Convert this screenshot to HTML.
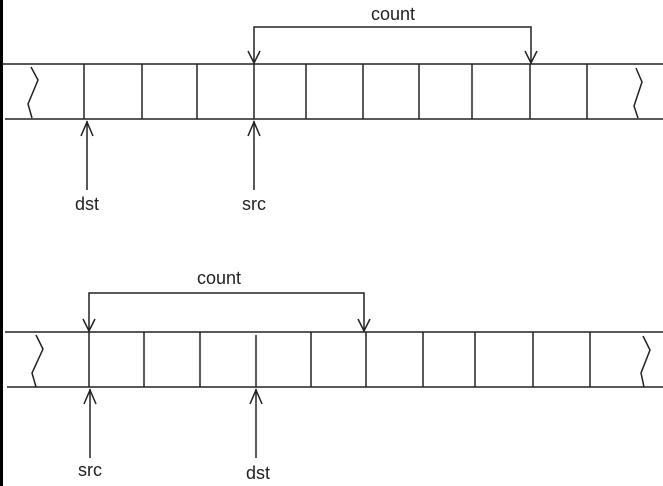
<!DOCTYPE html>
<html><head><meta charset="utf-8"><style>
html,body{margin:0;padding:0;background:#fff;}
svg{display:block;}
text{font-family:"Liberation Sans",sans-serif;font-size:18px;fill:#222;}
</style></head><body>
<svg width="663" height="486" viewBox="0 0 663 486" xmlns="http://www.w3.org/2000/svg">
<rect x="0" y="0" width="663" height="486" fill="#fff"/>
<rect x="0" y="0" width="3" height="486" fill="#000"/>
<g stroke="#222" stroke-width="1.5" fill="none">
  <g>
    <line x1="2" y1="64" x2="663" y2="64"/>
    <line x1="5" y1="119" x2="663" y2="119"/>
    <line x1="84" y1="64" x2="84" y2="119"/>
    <line x1="142" y1="64" x2="142" y2="119"/>
    <line x1="197" y1="64" x2="197" y2="119"/>
    <line x1="254" y1="64" x2="254" y2="119"/>
    <line x1="306" y1="64" x2="306" y2="119"/>
    <line x1="363" y1="64" x2="363" y2="119"/>
    <line x1="419" y1="64" x2="419" y2="119"/>
    <line x1="472" y1="64" x2="472" y2="119"/>
    <line x1="530" y1="64" x2="530" y2="119"/>
    <line x1="587" y1="64" x2="587" y2="119"/>
    <polyline points="31,67 38,80 28,104 32,118"/>
    <polyline points="636,68 642,82 634,106 638,118"/>
  </g>
  <g>
    <polyline points="254,63 254,27 531,27 531,63"/>
    <polyline points="248,51 254,63 260,51"/>
    <polyline points="525,51 531,63 537,51"/>
  </g>
  <g>
    <line x1="87" y1="121" x2="87" y2="190"/>
    <polyline points="81,136 87,122 93,136"/>
  </g>
  <g>
    <line x1="254" y1="121" x2="254" y2="190"/>
    <polyline points="248,136 254,122 260,136"/>
  </g>
  <g>
    <line x1="5" y1="332" x2="663" y2="332"/>
    <line x1="7" y1="387" x2="663" y2="387"/>
    <line x1="89" y1="332" x2="89" y2="387"/>
    <line x1="144" y1="332" x2="144" y2="387"/>
    <line x1="200" y1="332" x2="200" y2="387"/>
    <line x1="256" y1="335" x2="256" y2="387"/>
    <line x1="311" y1="332" x2="311" y2="387"/>
    <line x1="366" y1="332" x2="366" y2="387"/>
    <line x1="423" y1="332" x2="423" y2="387"/>
    <line x1="475" y1="332" x2="475" y2="387"/>
    <line x1="533" y1="332" x2="533" y2="387"/>
    <line x1="590" y1="332" x2="590" y2="387"/>
    <polyline points="36,335 43,349 32,373 36,387"/>
    <polyline points="643,336 650,350 641,373 644,387"/>
  </g>
  <g>
    <polyline points="89,331 89,293 364,293 364,331"/>
    <polyline points="83,319 89,331 95,319"/>
    <polyline points="358,319 364,331 370,319"/>
  </g>
  <g>
    <line x1="90" y1="389" x2="90" y2="458"/>
    <polyline points="84,404 90,390 96,404"/>
  </g>
  <g>
    <line x1="256" y1="389" x2="256" y2="458"/>
    <polyline points="250,404 256,390 262,404"/>
  </g>
</g>
<text x="393" y="20" text-anchor="middle">count</text>
<text x="87" y="210" text-anchor="middle">dst</text>
<text x="254" y="210" text-anchor="middle">src</text>
<text x="219" y="284" text-anchor="middle">count</text>
<text x="90" y="476" text-anchor="middle">src</text>
<text x="258" y="479" text-anchor="middle">dst</text>
</svg>
</body></html>
